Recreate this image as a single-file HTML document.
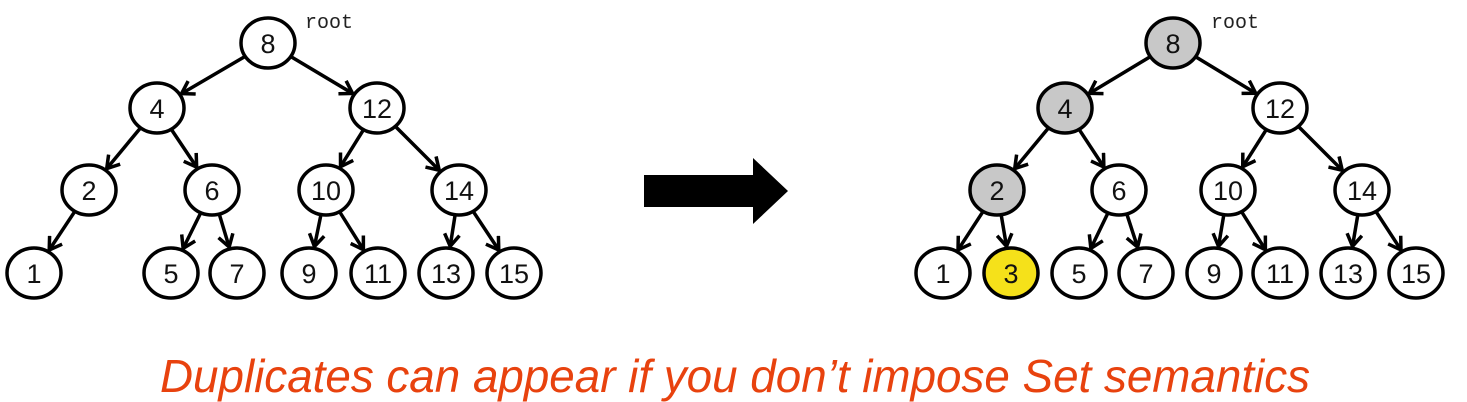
<!DOCTYPE html>
<html><head><meta charset="utf-8"><style>
html,body{margin:0;padding:0;background:#fff;width:1467px;height:402px;overflow:hidden}
svg{display:block}
</style></head><body>
<svg id="svg" width="1467" height="402" viewBox="0 0 1467 402" xmlns="http://www.w3.org/2000/svg">
<defs>
<marker id="ah" markerWidth="18" markerHeight="18" refX="13" refY="9" orient="auto" markerUnits="userSpaceOnUse">
<path d="M1,1.5 L13,9 L1,16.5" fill="none" stroke="#000" stroke-width="3.5"/>
</marker>
</defs>
<g id="left"></g>
<g id="right"></g>
<text x="305" y="28" font-family="Liberation Mono, monospace" font-size="20" fill="#222">root</text>
<text x="1211" y="28" font-family="Liberation Mono, monospace" font-size="20" fill="#222">root</text>
<path d="M644,175 L753,175 L753,158 L788,191 L753,224 L753,207 L644,207 Z" fill="#000"/>
<text x="735" y="392" text-anchor="middle" font-family="Liberation Sans, sans-serif" font-style="italic" font-size="46" fill="#e8420e" textLength="1150" lengthAdjust="spacingAndGlyphs">Duplicates can appear if you don’t impose Set semantics</text>
</svg>
<script>
const leftLabels=[8,4,12,2,6,10,14,1,5,7,9,11,13,15];
const leftX=[268,157,377,89,212,326,459,34,171,237,309,378,446,514];
const leftLevel=[0,1,1,2,2,2,2,3,3,3,3,3,3,3];
const leftParent=[-1,0,0,1,1,2,2,3,4,4,5,5,6,6];
const rightLabels=[8,4,12,2,6,10,14,1,3,5,7,9,11,13,15];
const rightX=[1173,1065,1280,997,1119,1228,1362,943,1011,1079,1146,1214,1280,1348,1416];
const rightLevel=[0,1,1,2,2,2,2,3,3,3,3,3,3,3,3];
const rightParent=[-1,0,0,1,1,2,2,3,3,4,4,5,5,6,6];
const rightFill=['#c8c8c8','#c8c8c8','#fff','#c8c8c8','#fff','#fff','#fff','#fff','#f5e11a','#fff','#fff','#fff','#fff','#fff','#fff'];
const levelY=[43,108,190,273];
const RX=27,RY=25,NS='http://www.w3.org/2000/svg';
function draw(gid,labels,xs,lv,par,fills){
  const g=document.getElementById(gid);
  for(let i=0;i<labels.length;i++){
    if(par[i]<0)continue;
    const p=par[i];
    const x1=xs[p],y1=levelY[lv[p]],x2=xs[i],y2=levelY[lv[i]];
    const dx=x2-x1,dy=y2-y1,L=Math.hypot(dx,dy);
    const ux=dx/L,uy=dy/L;
    const t1=1/Math.sqrt((ux/RX)**2+(uy/RY)**2);
    const l=document.createElementNS(NS,'line');
    l.setAttribute('x1',x1+ux*t1);l.setAttribute('y1',y1+uy*t1);
    l.setAttribute('x2',x2-ux*(t1+2));l.setAttribute('y2',y2-uy*(t1+2));
    l.setAttribute('stroke','#000');l.setAttribute('stroke-width','3.5');
    l.setAttribute('marker-end','url(#ah)');
    
    
    g.appendChild(l);
  }
  for(let i=0;i<labels.length;i++){
    const e=document.createElementNS(NS,'ellipse');
    e.setAttribute('cx',xs[i]);e.setAttribute('cy',levelY[lv[i]]);
    e.setAttribute('rx',RX);e.setAttribute('ry',RY);
    e.setAttribute('fill',fills?fills[i]:'#fff');e.setAttribute('stroke','#000');e.setAttribute('stroke-width','3.5');
    
    
    g.appendChild(e);
    const t=document.createElementNS(NS,'text');
    t.setAttribute('x',xs[i]);t.setAttribute('y',levelY[lv[i]]+10);
    t.setAttribute('text-anchor','middle');
    t.setAttribute('font-family','Liberation Sans, sans-serif');
    t.setAttribute('font-size','27');t.setAttribute('fill','#111');
    t.textContent=labels[i];
    
    
    g.appendChild(t);
  }
}
draw('left',leftLabels,leftX,leftLevel,leftParent,null);
draw('right',rightLabels,rightX,rightLevel,rightParent,rightFill);
</script>
</body></html>
